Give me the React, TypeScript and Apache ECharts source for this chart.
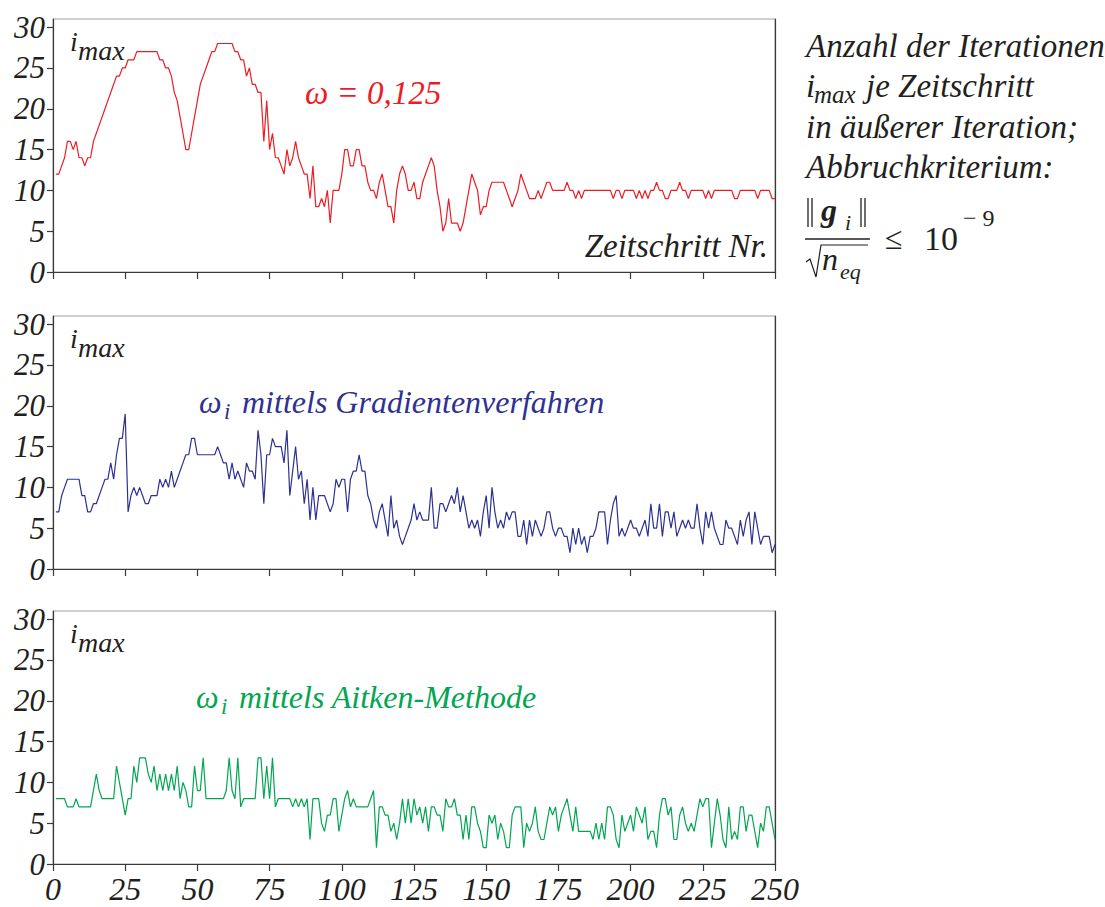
import React, { useEffect, useRef } from "react";
import * as echarts from "echarts";

// Zeitschritt Nr. 1..250
const omegaConst: number[] = [
  12,12,13,14,16,16,15,16,14,14, 13,14,14,16,17,18,19,20,21,22,
  23,24,24,25,25,26,26,26,27,27, 27,27,27,27,27,27,26,26,25,25,
  24,22,21,19,17,15,15,17,19,21, 23,24,25,26,27,27,28,28,28,28,
  28,28,27,27,26,26,24,25,23,23, 22,22,16,21,15,17,14,14,13,12,
  15,13,14,16,14,13,12,12,9,13, 8,8,9,8,10,6,10,10,10,12,
  15,15,13,13,15,15,13,13,11,10, 10,9,11,12,10,8,8,6,10,12,
  13,12,10,10,11,9,9,11,12,13, 14,13,10,8,5,6,9,6,6,6,
  5,6,8,10,12,11,10,7,8,8, 10,11,11,11,11,11,10,9,8,9,
  10,12,11,10,9,9,9,10,9,10, 11,11,10,10,10,10,10,11,10,10,
  9,10,9,10,10,10,10,10,10,10, 10,10,10,9,10,10,9,10,10,10,
  10,9,10,9,10,9,10,10,11,10, 10,9,9,10,10,10,11,10,10,9,
  10,10,10,10,10,9,10,9,10,10, 10,10,10,10,10,9,9,10,10,10,
  10,10,10,9,10,10,10,10,9,9,
];

const omegaGradient: number[] = [
  7,7,9,10,11,11,11,11,11,9, 9,7,7,8,8,9,10,11,11,13,
  11,14,16,16,19,7,9,10,9,10, 9,8,8,9,9,9,11,10,11,10,
  12,10,11,12,13,14,14,16,16,14, 14,14,14,14,14,14,15,14,13,13,
  11,13,11,12,11,10,13,12,12,11, 17,14,8,14,14,16,15,15,15,13,
  17,9,12,15,11,12,8,11,6,10, 6,9,9,9,8,7,8,11,10,11,
  11,7,11,12,12,14,12,12,9,8, 6,5,7,8,6,4,9,5,6,4,
  3,4,5,6,8,6,7,6,6,6, 10,5,5,8,8,7,8,9,8,10,
  7,9,7,5,6,5,6,4,7,9, 5,10,7,5,6,5,7,6,7,7,
  4,4,6,3,6,4,6,5,4,5, 7,7,5,4,5,5,4,4,2,5,
  3,5,3,4,2,4,4,5,7,7, 7,3,6,8,9,4,5,4,5,6,
  5,5,4,5,6,4,8,5,5,8, 4,7,7,5,7,4,5,6,5,6,
  5,5,8,5,3,7,5,7,5,4, 3,3,6,5,5,4,3,6,4,6,
  7,3,7,5,3,4,4,4,2,3,
];

const omegaAitken: number[] = [
  8,8,8,8,7,7,7,8,7,7, 7,7,7,9,11,9,8,8,8,8,
  8,12,10,8,6,8,8,12,10,13, 13,13,11,10,12,9,11,9,11,9,
  11,9,12,8,10,9,7,7,12,9, 9,13,8,8,8,8,8,8,8,9,
  13,9,8,13,7,8,8,8,8,8, 13,13,8,12,8,13,7,8,8,8,
  8,8,7,8,7,8,7,8,3,8, 8,8,5,4,6,6,8,8,4,6,
  8,9,7,8,7,7,7,7,7,8, 9,2,7,7,6,6,4,5,3,5,
  8,5,8,5,8,6,7,5,7,4, 7,7,6,6,4,8,7,7,8,6,
  6,3,6,3,7,7,5,4,2,2, 6,5,6,3,5,4,2,2,6,7,
  7,7,2,5,4,5,7,4,3,3, 5,7,6,7,4,6,7,8,6,4,
  7,4,4,4,4,4,3,5,3,5, 3,7,7,6,3,2,6,4,5,6,
  4,7,6,5,7,3,4,4,2,6, 8,8,6,7,3,3,6,7,5,4,
  5,4,6,8,7,8,8,2,5,8, 6,3,2,7,3,4,3,7,7,4,
  6,6,4,2,5,4,7,7,5,3,
];

const yTicks: number[] = [0, 5, 10, 15, 20, 25, 30];
const xTickStep = 25;
const xMax = 250;
const yMax = 31;

const seriesColors = ["#ed1c24", "#2e3192", "#00a651"];
const seriesList = [omegaConst, omegaGradient, omegaAitken];

const FONT = "Liberation Serif";
const TXT = "#231f20";
const AXC = "#3a3a3a";

const gridTops = [19, 316, 611];
const GRID_LEFT = 53;
const GRID_W = 722;
const GRID_H = 253;

function txt(text: string, x: number, y: number, size: number, opts: any = {}) {
  const align = opts.align || "left";
  return {
    type: "text",
    silent: true,
    style: {
      text,
      x,
      y,
      fontFamily: FONT,
      fontSize: size,
      fontStyle: opts.italic === false ? "normal" : "italic",
      fontWeight: opts.bold ? "bold" : "normal",
      fill: opts.color || TXT,
      align,
      verticalAlign: "middle",
    },
  };
}

function seg(x1: number, y1: number, x2: number, y2: number, w = 1.3) {
  return {
    type: "line",
    silent: true,
    shape: { x1, y1, x2, y2 },
    style: { stroke: TXT, lineWidth: w },
  };
}

export default function App() {
  const ref = useRef<HTMLDivElement>(null);

  useEffect(() => {
    if (!ref.current) return;
    const chart = echarts.init(ref.current, undefined, { renderer: "svg" });

    const grids = gridTops.map((top) => ({
      left: GRID_LEFT,
      top,
      width: GRID_W,
      height: GRID_H,
      show: true,
      borderColor: "#a0a0a0",
      borderWidth: 1,
      backgroundColor: "transparent",
    }));

    const xAxes = gridTops.map((_, i) => ({
      type: "value",
      gridIndex: i,
      min: 0,
      max: xMax,
      interval: xTickStep,
      axisLine: { show: true, onZero: false, lineStyle: { color: AXC, width: 1.2 } },
      axisTick: { show: true, length: 7, inside: false, lineStyle: { color: AXC, width: 1.2 } },
      axisLabel: {
        show: i === 2,
        fontFamily: FONT,
        fontStyle: "italic",
        fontSize: 32,
        color: TXT,
        margin: 9,
      },
      splitLine: { show: false },
    }));

    const yAxesLeft = gridTops.map((_, i) => ({
      type: "value",
      gridIndex: i,
      min: 0,
      max: yMax,
      position: "left",
      axisLine: { show: true, onZero: false, lineStyle: { color: AXC, width: 1.2 } },
      axisTick: {
        show: true,
        length: 6,
        inside: false,
        customValues: yTicks,
        lineStyle: { color: AXC, width: 1.2 },
      },
      axisLabel: {
        show: true,
        customValues: yTicks,
        fontFamily: FONT,
        fontStyle: "italic",
        fontSize: 31,
        color: TXT,
        margin: 8,
      },
      splitLine: { show: false },
    }));

    const yAxesRight = gridTops.map((_, i) => ({
      type: "value",
      gridIndex: i,
      min: 0,
      max: yMax,
      position: "right",
      axisLine: { show: true, onZero: false, lineStyle: { color: AXC, width: 1.2 } },
      axisTick: { show: false },
      axisLabel: { show: false },
      splitLine: { show: false },
    }));

    const series = seriesList.map((vals, i) => ({
      type: "line",
      xAxisIndex: i,
      yAxisIndex: i,
      data: vals.map((v, k) => [k + 1, v]),
      showSymbol: false,
      symbol: "none",
      lineStyle: { color: seriesColors[i], width: 1.2 },
      itemStyle: { color: seriesColors[i] },
      silent: true,
    }));

    const graphic: any[] = [];
    gridTops.forEach((top) => {
      graphic.push(txt("i", 70, top + 22, 28));
      graphic.push(txt("max", 78, top + 31, 28));
    });
    graphic.push(txt("ω = 0,125", 305, 93, 33, { color: seriesColors[0] }));
    graphic.push(txt("Zeitschritt Nr.", 768, 246, 33, { align: "right" }));

    graphic.push(txt("ω", 199, 402, 32, { color: seriesColors[1] }));
    graphic.push(txt("i", 224, 411, 23, { color: seriesColors[1] }));
    graphic.push(txt("mittels Gradientenverfahren", 242, 402, 32, { color: seriesColors[1] }));

    graphic.push(txt("ω", 196, 697, 32, { color: seriesColors[2] }));
    graphic.push(txt("i", 221, 706, 23, { color: seriesColors[2] }));
    graphic.push(txt("mittels Aitken-Methode", 239, 697, 32, { color: seriesColors[2] }));

    graphic.push(txt("Anzahl der Iterationen", 806, 46, 33));
    graphic.push(txt("i", 806, 86, 33));
    graphic.push(txt("max", 814, 94, 25));
    graphic.push(txt("je Zeitschritt", 866, 86, 33));
    graphic.push(txt("in äußerer Iteration;", 806, 127, 33));
    graphic.push(txt("Abbruchkriterium:", 806, 167, 33));

    // formula  ||g_i|| / sqrt(n_eq) <= 10^-9
    graphic.push(seg(808, 198, 808, 227));
    graphic.push(seg(812, 198, 812, 227));
    graphic.push(txt("g", 821, 210, 32, { bold: true }));
    graphic.push(txt("i", 845, 222, 22));
    graphic.push(seg(861, 198, 861, 227));
    graphic.push(seg(865, 198, 865, 227));
    graphic.push(seg(805, 239, 870, 239));
    graphic.push({
      type: "polyline",
      silent: true,
      shape: { points: [[806, 262], [810, 259], [816, 277], [821, 245], [868, 245]] },
      style: { stroke: TXT, lineWidth: 1.2, fill: "none" },
    });
    graphic.push(txt("n", 822, 259, 32));
    graphic.push(txt("eq", 840, 271, 22));
    graphic.push(txt("≤", 885, 238, 32, { italic: false }));
    graphic.push(txt("10", 924, 238, 34, { italic: false }));
    graphic.push(txt("− 9", 963, 218, 24, { italic: false }));

    chart.setOption({
      animation: false,
      backgroundColor: "#ffffff",
      grid: grids,
      xAxis: xAxes,
      yAxis: [...yAxesLeft, ...yAxesRight],
      series,
      graphic,
    });

    return () => chart.dispose();
  }, []);

  return (
    <div
      ref={ref}
      style={{ position: "absolute", left: 0, top: 0, width: 1105, height: 907, background: "#fff" }}
    />
  );
}
